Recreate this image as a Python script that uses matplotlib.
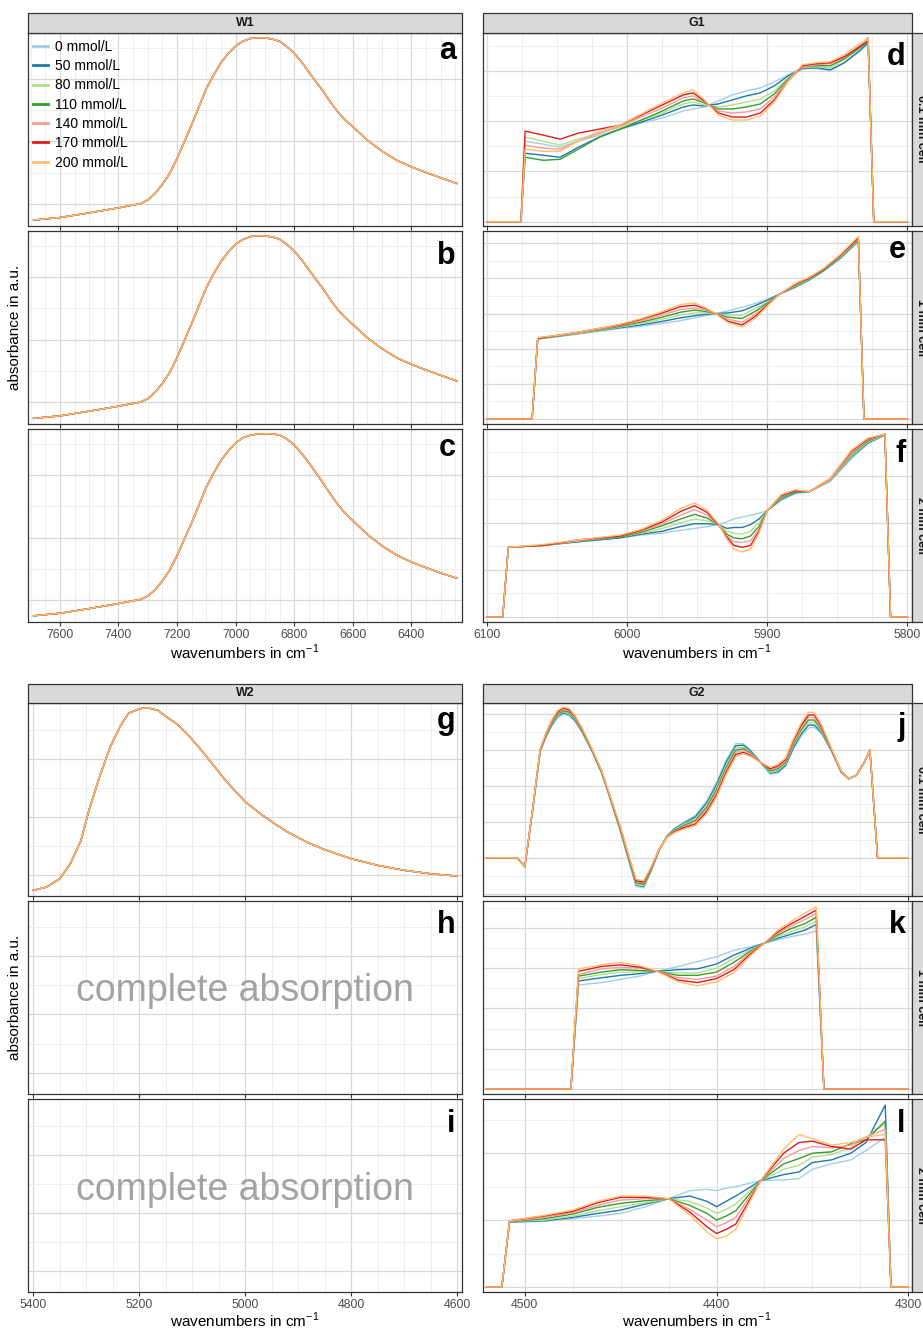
import numpy as np
import matplotlib.pyplot as plt
from matplotlib.ticker import MultipleLocator
from matplotlib.patches import Rectangle
from matplotlib.lines import Line2D

plt.rcParams['font.family'] = ['Liberation Sans', 'DejaVu Sans']
plt.rcParams['mathtext.fontset'] = 'custom'
plt.rcParams['mathtext.rm'] = 'Liberation Sans'

#------------------------------ DATA ------------------------------
concentrations = [0, 50, 80, 110, 140, 170, 200]
conc_colors = ['#A6CEE3', '#1F78B4', '#B2DF8A', '#33A02C', '#FB9A99', '#E31A1C', '#FDBF6F']

# water band W1 (panels a, b, c): curves of all concentrations coincide
wn_w1 = [7690, 7600, 7500, 7400, 7350, 7325, 7300, 7275, 7250, 7225, 7200, 7175, 7150, 7125,
         7100, 7075, 7050, 7025, 7000, 6975, 6950, 6925, 6900, 6875, 6850, 6825, 6800, 6775,
         6750, 6725, 6700, 6675, 6650, 6625, 6600, 6550, 6500, 6450, 6400, 6350, 6300, 6245]
abs_a = [0.149, 0.157, 0.172, 0.188, 0.197, 0.201, 0.213, 0.234, 0.263, 0.298, 0.346, 0.399, 0.454, 0.511,
         0.569, 0.612, 0.652, 0.681, 0.705, 0.720, 0.729, 0.731, 0.731, 0.727, 0.720, 0.703, 0.682, 0.654,
         0.622, 0.590, 0.559, 0.524, 0.493, 0.468, 0.447, 0.404, 0.369, 0.340, 0.319, 0.301, 0.284, 0.266]
abs_b = [0.148, 0.156, 0.171, 0.187, 0.196, 0.200, 0.211, 0.232, 0.260, 0.295, 0.343, 0.397, 0.452, 0.509,
         0.567, 0.611, 0.651, 0.681, 0.706, 0.721, 0.730, 0.733, 0.732, 0.729, 0.722, 0.705, 0.684, 0.656,
         0.624, 0.592, 0.561, 0.526, 0.495, 0.470, 0.449, 0.406, 0.371, 0.342, 0.321, 0.303, 0.286, 0.268]
abs_c = [0.150, 0.158, 0.173, 0.189, 0.198, 0.202, 0.213, 0.233, 0.262, 0.296, 0.343, 0.395, 0.448, 0.505,
         0.562, 0.607, 0.647, 0.678, 0.703, 0.720, 0.728, 0.732, 0.733, 0.732, 0.729, 0.716, 0.697, 0.670,
         0.640, 0.607, 0.573, 0.538, 0.505, 0.477, 0.455, 0.410, 0.374, 0.344, 0.322, 0.304, 0.287, 0.270]

# water band W2 (panel g)
wn_w2 = [5400, 5375, 5350, 5330, 5310, 5295, 5275, 5255, 5235, 5220, 5200, 5185, 5165, 5150, 5130,
         5110, 5085, 5060, 5035, 5000, 4970, 4945, 4920, 4885, 4850, 4800, 4750, 4700, 4650, 4600]
abs_g = [0.346, 0.357, 0.386, 0.438, 0.518, 0.622, 0.737, 0.840, 0.915, 0.957, 0.972, 0.976, 0.967, 0.946, 0.921,
         0.886, 0.834, 0.777, 0.720, 0.651, 0.608, 0.576, 0.547, 0.513, 0.486, 0.455, 0.432, 0.415, 0.403, 0.395]

# glucose band G1, rows = wavenumbers, columns = concentrations
wn_d = [6100, 6076, 6073, 6060, 6048, 6035, 6020, 6005, 5990, 5975, 5960, 5953, 5945, 5935,
        5925, 5915, 5905, 5895, 5885, 5875, 5865, 5855, 5845, 5835, 5828, 5824, 5800]
abs_d = [[0, 0, 0, 0, 0, 0, 0], [0, 0, 0, 0, 0, 0, 0],
         [80, 68, 84, 64, 76, 90, 72], [77, 66, 80, 61, 73, 86, 70], [74, 64, 76, 62, 72, 82, 70],
         [80, 74, 82, 72, 80, 88, 80], [86, 84, 88, 84, 88, 92, 90], [92, 92, 94, 92, 95, 96, 96],
         [98, 99, 101, 101, 104, 106, 107], [103, 106, 108, 110, 113, 116, 118],
         [110, 114, 117, 120, 123, 126, 128], [112, 116, 119, 122, 125, 128, 131],
         [114, 115, 116, 118, 119, 120, 121], [120, 117, 114, 112, 110, 108, 106],
         [126, 121, 116, 112, 108, 104, 101], [130, 125, 119, 114, 109, 104, 101],
         [133, 128, 122, 117, 112, 108, 105], [139, 135, 130, 127, 124, 121, 119],
         [146, 145, 143, 142, 141, 140, 140], [153, 152, 153, 154, 154, 155, 156],
         [152, 153, 154, 155, 156, 157, 158], [150, 151, 153, 155, 157, 158, 159],
         [158, 158, 161, 162, 163, 164, 166], [168, 169, 171, 172, 174, 173, 176],
         [176, 178, 180, 179, 183, 180, 181], [0, 0, 0, 0, 0, 0, 0], [0, 0, 0, 0, 0, 0, 0]]

wn_e = [6100, 6068, 6064, 6050, 6034, 6020, 6005, 5990, 5975, 5962, 5952, 5944, 5937, 5928,
        5918, 5908, 5898, 5891, 5880, 5870, 5860, 5848, 5835, 5831, 5800]
abs_e = [[0, 0, 0, 0, 0, 0, 0], [0, 0, 0, 0, 0, 0, 0],
         [114, 114, 115, 115, 115, 115, 116], [117, 118, 118, 118, 119, 119, 119],
         [121, 122, 122, 123, 123, 124, 124], [125, 126, 126, 127, 128, 129, 129],
         [129, 130, 131, 132, 133, 134, 135], [132, 134, 136, 138, 140, 142, 143],
         [136, 139, 142, 145, 148, 151, 153], [140, 144, 148, 152, 156, 160, 163],
         [144, 147, 151, 155, 158, 162, 165], [147, 149, 151, 153, 155, 157, 158],
         [150, 150, 150, 150, 150, 150, 150], [154, 151, 148, 145, 142, 139, 137],
         [159, 154, 148, 143, 138, 134, 131], [165, 162, 158, 154, 150, 147, 144],
         [172, 171, 169, 168, 167, 166, 165], [178, 178, 178, 178, 178, 178, 178],
         [187, 188, 189, 190, 191, 192, 193], [198, 198, 199, 200, 201, 201, 202],
         [210, 211, 212, 212, 213, 213, 214], [228, 229, 230, 231, 232, 233, 234],
         [252, 254, 255, 256, 257, 258, 260], [0, 0, 0, 0, 0, 0, 0], [0, 0, 0, 0, 0, 0, 0]]

wn_f = [6100, 6089, 6085, 6060, 6034, 6005, 5990, 5975, 5962, 5952, 5943, 5935, 5929, 5924, 5918,
        5912, 5906, 5900, 5890, 5880, 5870, 5855, 5840, 5828, 5816, 5812, 5800]
abs_f = [[0, 0, 0, 0, 0, 0, 0], [0, 0, 0, 0, 0, 0, 0],
         [74, 74, 74, 74, 74, 74, 74], [76, 76, 76, 76, 76, 76, 77],
         [80, 80, 81, 81, 81, 82, 82], [84, 84, 85, 85, 86, 86, 87],
         [87, 88, 89, 90, 91, 92, 93], [89, 91, 94, 97, 99, 101, 103],
         [92, 96, 100, 104, 108, 112, 115], [94, 99, 104, 109, 114, 118, 121],
         [96, 99, 102, 105, 108, 111, 113], [98, 98, 98, 98, 98, 98, 99],
         [101, 94, 91, 88, 86, 85, 83], [104, 95, 89, 84, 80, 76, 72],
         [106, 95, 88, 83, 79, 74, 69], [108, 98, 91, 86, 81, 76, 72],
         [110, 104, 100, 96, 93, 91, 89], [113, 113, 113, 113, 113, 113, 113],
         [124, 125, 126, 127, 128, 129, 130], [131, 132, 133, 133, 134, 134, 135],
         [133, 133, 133, 133, 133, 133, 133], [144, 145, 145, 146, 146, 147, 147],
         [168, 170, 171, 173, 174, 176, 177], [184, 185, 186, 187, 188, 189, 190],
         [193, 193, 193, 194, 194, 194, 194], [0, 0, 0, 0, 0, 0, 0], [0, 0, 0, 0, 0, 0, 0]]

# glucose band G2
wn_j = [4520, 4504, 4500, 4496, 4492, 4489, 4486, 4483, 4480, 4477, 4474, 4470, 4465, 4460, 4455,
        4450, 4446, 4442, 4438, 4434, 4430, 4426, 4422, 4417, 4411, 4405, 4400, 4395, 4390, 4386,
        4382, 4377, 4372, 4368, 4364, 4360, 4356, 4352, 4349, 4345, 4340, 4335, 4331, 4327, 4323,
        4320, 4316, 4300]
abs_j = [[0, 0, 0, 0, 0, 0, 0], [0, 0, 0, 0, 0, 0, 0], [-11, -12, -12, -13, -12, -12, -12],
         [65, 65, 66, 66, 66, 67, 67], [148, 149, 149, 150, 151, 151, 152],
         [168, 169, 170, 171, 172, 173, 174], [184, 185, 187, 188, 189, 191, 192],
         [195, 197, 198, 200, 202, 203, 205], [200, 202, 204, 205, 207, 209, 210],
         [198, 200, 201, 203, 205, 206, 208], [191, 192, 194, 195, 196, 198, 199],
         [174, 175, 176, 177, 178, 179, 180], [148, 149, 149, 150, 151, 151, 152],
         [118, 119, 119, 120, 121, 121, 122], [78, 79, 79, 80, 81, 81, 82],
         [35, 36, 37, 38, 40, 41, 42], [-3, -1, 0, 1, 3, 4, 5],
         [-40, -38, -37, -35, -33, -32, -30], [-42, -40, -39, -37, -35, -34, -32],
         [-18, -17, -16, -15, -14, -13, -12], [10, 10, 11, 11, 11, 12, 12],
         [30, 30, 29, 29, 29, 28, 28], [41, 40, 39, 38, 37, 36, 35],
         [50, 48, 47, 45, 43, 42, 40], [59, 57, 54, 52, 50, 47, 45],
         [80, 77, 74, 71, 68, 65, 62], [105, 102, 98, 95, 92, 88, 85],
         [136, 133, 129, 126, 123, 119, 116], [159, 156, 153, 150, 147, 144, 141],
         [159, 157, 154, 152, 150, 147, 145], [149, 148, 146, 145, 144, 142, 141],
         [133, 133, 133, 133, 133, 133, 133], [116, 118, 119, 121, 123, 124, 126],
         [118, 120, 122, 124, 126, 128, 130], [127, 129, 131, 133, 135, 137, 139],
         [151, 153, 156, 158, 160, 163, 165], [169, 172, 175, 178, 181, 184, 187],
         [181, 185, 188, 192, 196, 199, 203], [182, 185, 189, 192, 195, 199, 202],
         [172, 174, 176, 178, 180, 182, 184], [148, 149, 149, 150, 151, 151, 152],
         [119, 119, 120, 120, 120, 121, 121], [110, 110, 110, 110, 110, 110, 110],
         [115, 115, 115, 115, 115, 115, 115], [133, 133, 133, 133, 133, 133, 133],
         [150, 150, 150, 150, 150, 150, 150], [0, 0, 0, 0, 0, 0, 0], [0, 0, 0, 0, 0, 0, 0]]

wn_k = [4520, 4476, 4472, 4460, 4450, 4440, 4431, 4420, 4410, 4400, 4391, 4383, 4375, 4368,
        4361, 4354, 4348, 4344, 4300]
abs_k = [[0, 0, 0, 0, 0, 0, 0], [0, 0, 0, 0, 0, 0, 0],
         [129, 134, 137, 140, 142, 146, 149], [132, 138, 142, 145, 149, 152, 154],
         [136, 141, 145, 148, 151, 154, 157], [140, 143, 145, 147, 150, 151, 153],
         [146, 146, 146, 146, 146, 146, 146], [152, 148, 144, 141, 138, 135, 133],
         [158, 149, 144, 141, 136, 132, 128], [164, 155, 150, 145, 140, 137, 133],
         [172, 166, 162, 157, 152, 148, 144], [176, 174, 172, 170, 168, 166, 164],
         [181, 181, 181, 181, 181, 181, 181], [185, 187, 189, 191, 193, 195, 197],
         [189, 192, 195, 199, 202, 205, 208], [192, 197, 201, 205, 210, 214, 218],
         [196, 204, 208, 213, 218, 222, 226], [0, 0, 0, 0, 0, 0, 0], [0, 0, 0, 0, 0, 0, 0]]

wn_l = [4520, 4512, 4508, 4490, 4475, 4462, 4450, 4437, 4425, 4414, 4405, 4400, 4395, 4390, 4377,
        4365, 4357, 4350, 4340, 4330, 4322, 4312, 4309, 4300]
abs_l = [[0, 0, 0, 0, 0, 0, 0], [0, 0, 0, 0, 0, 0, 0],
         [48.5, 48.5, 49, 49, 49, 49.5, 49.5], [49, 49.5, 50, 51, 52, 53, 53.5],
         [51, 52, 53, 54.5, 55.5, 56.5, 57.5], [53, 55, 57, 59.5, 61, 63, 64],
         [55, 57.5, 60, 62.5, 65, 67, 68], [60, 62, 63, 64.5, 66, 67, 68],
         [66, 66, 66, 66, 66, 66, 66], [72, 68, 64, 61, 58, 56, 54],
         [73, 64, 59, 55, 50, 45, 41], [72, 60, 55, 50, 45, 40, 36],
         [74, 64, 58, 53, 48, 43, 38], [75, 68, 62, 57, 52, 47, 43],
         [79.5, 79.5, 79.5, 79.5, 79.5, 79.5, 79.5], [80, 84, 88, 92, 96, 100, 103],
         [81, 86, 91, 96, 102, 108, 114], [88, 93, 97, 100, 105, 109, 111],
         [92, 95, 99, 101, 104, 105, 106], [95, 100, 104, 107, 106, 103, 108],
         [102, 108, 112, 110, 112, 110, 112], [112, 136, 122, 124, 118, 110, 114],
         [0, 0, 0, 0, 0, 0, 0], [0, 0, 0, 0, 0, 0, 0]]

#------------------------------ LAYOUT ------------------------------
W, H = 923, 1331
fig = plt.figure(figsize=(W / 100, H / 100), dpi=100)

left_col = (28.3, 461.7)
right_col = (482.7, 911.7)
top_rows = [(32.5, 226), (231, 424), (429, 622)]
bot_rows = [(703, 896), (900.5, 1094), (1099, 1292)]
cell_labels = ['0.1 mm cell', '1 mm cell', '2 mm cell']


def add_panel(col, row):
    return fig.add_axes([col[0] / W, 1 - row[1] / H, (col[1] - col[0]) / W, (row[1] - row[0]) / H])


def style_axes(ax, xlim, ylim, xmaj, xmin, ymaj, ymin, bottom):
    ax.set_xlim(*xlim)
    ax.set_ylim(*ylim)
    ax.xaxis.set_major_locator(MultipleLocator(xmaj))
    ax.xaxis.set_minor_locator(MultipleLocator(xmin))
    ax.yaxis.set_major_locator(MultipleLocator(ymaj))
    ax.yaxis.set_minor_locator(MultipleLocator(ymin))
    ax.grid(which='major', color='#D9D9D9', lw=0.9)
    ax.grid(which='minor', color='#EBEBEB', lw=0.6)
    ax.set_axisbelow(True)
    for s in ax.spines.values():
        s.set_color('#333333')
        s.set_linewidth(0.9)
    ax.tick_params(axis='y', which='both', left=False, labelleft=False)
    ax.tick_params(axis='x', which='minor', length=0)
    ax.tick_params(axis='x', which='major', length=3, color='#333333', labelsize=8.8,
                   labelcolor='#4D4D4D', pad=2, labelbottom=bottom)


def panel_letter(ax, row, col, letter):
    h = row[1] - row[0]
    w = col[1] - col[0]
    off = 3.5 if letter in 'aceg' else 9.5
    ax.text(1 - 6 / w, 1 - off / h, letter, transform=ax.transAxes, ha='right', va='top',
            fontsize=22, fontweight='bold', color='black', zorder=10)


def strip_top(col, y0, y1, label):
    fig.add_artist(Rectangle((col[0] / W, 1 - y1 / H), (col[1] - col[0]) / W, (y1 - y0) / H,
                             transform=fig.transFigure, fc='#D9D9D9', ec='#333333', lw=0.9))
    fig.text((col[0] + col[1]) / 2 / W, 1 - (y0 + y1) / 2 / H, label, ha='center', va='center',
             fontsize=9, fontweight='bold', color='#1A1A1A')


def strip_right(row, label):
    # row strips run past the right edge of the picture, as in the original
    fig.add_artist(Rectangle((right_col[1] / W, 1 - row[1] / H), 20 / W, (row[1] - row[0]) / H,
                             transform=fig.transFigure, fc='#D9D9D9', ec='#333333', lw=0.9, clip_on=False))
    fig.text(921.5 / W, 1 - (row[0] + row[1]) / 2 / H, label, ha='center', va='center', rotation=-90,
             fontsize=9, fontweight='bold', color='#1A1A1A')


def plot_w(ax, wn, vals):
    for c, col in zip(concentrations, conc_colors):
        ax.plot(wn, vals, color=col, lw=1.0, label=f'{c} mmol/L')


def plot_g(ax, wn, table):
    arr = np.array(table, dtype=float).T
    for vals, col in zip(arr, conc_colors):
        ax.plot(wn, vals, color=col, lw=1.0)


# ---------------- top block: W1 / G1 ----------------
w1_vals = [abs_a, abs_b, abs_c]
g1_data = [(wn_d, abs_d, (-4.3, 188)), (wn_e, abs_e, (-7.1, 267.6)), (wn_f, abs_f, (-5.3, 199.5))]
for i, row in enumerate(top_rows):
    ax = add_panel(left_col, row)
    plot_w(ax, wn_w1, w1_vals[i])
    style_axes(ax, (7708, 6228), (0.130, 0.748), 200, 50, 0.2, 0.1, i == 2)
    panel_letter(ax, row, left_col, 'abc'[i])
    if i == 0:
        handles = [Line2D([], [], color=col, lw=2) for col in conc_colors]
        ax.legend(handles, [f'{c} mmol/L' for c in concentrations], loc='upper left',
                  bbox_to_anchor=(0.0, 0.987), frameon=False, fontsize=10, handlelength=1.1,
                  handletextpad=0.5, labelspacing=0.38, borderpad=0.2, borderaxespad=0.15)

    ax = add_panel(right_col, row)
    wn, tab, ylim = g1_data[i]
    plot_g(ax, wn, tab)
    style_axes(ax, (6103.3, 5796.9), ylim, 100, 25, 50, 25, i == 2)
    panel_letter(ax, row, right_col, 'def'[i])
    strip_right(row, cell_labels[i])

strip_top(left_col, 13, 32.5, 'W1')
strip_top(right_col, 13, 32.5, 'G1')

# ---------------- bottom block: W2 / G2 ----------------
g2_data = [(wn_j, abs_j, (-53.3, 215.7)), (wn_k, abs_k, (-6.2, 233.8)), (wn_l, abs_l, (-3.75, 140.5))]
for i, row in enumerate(bot_rows):
    ax = add_panel(left_col, row)
    if i == 0:
        plot_w(ax, wn_w2, abs_g)
    else:
        ax.text(0.5, 0.53, 'complete absorption', transform=ax.transAxes, ha='center', va='center',
                fontsize=27, color='#A3A3A3')
    style_axes(ax, (5409.4, 4591.7), (0.3264, 0.992), 200, 50, 0.2, 0.1, i == 2)
    panel_letter(ax, row, left_col, 'ghi'[i])

    ax = add_panel(right_col, row)
    wn, tab, ylim = g2_data[i]
    plot_g(ax, wn, tab)
    style_axes(ax, (4522, 4298.2), ylim, 100, 25, 50, 25, i == 2)
    panel_letter(ax, row, right_col, 'jkl'[i])
    strip_right(row, cell_labels[i])

strip_top(left_col, 684, 703, 'W2')
strip_top(right_col, 684, 703, 'G2')

# ---------------- axis titles ----------------
xlab = 'wavenumbers in cm$^{-1}$'
for yy in (652, 1320):
    fig.text((left_col[0] + left_col[1]) / 2 / W, 1 - yy / H, xlab, ha='center', va='center', fontsize=11)
    fig.text((right_col[0] + right_col[1]) / 2 / W, 1 - yy / H, xlab, ha='center', va='center', fontsize=11)
for yy in (327, 997):
    fig.text(15 / W, 1 - yy / H, 'absorbance in a.u.', ha='center', va='center', rotation=90, fontsize=11)

fig.savefig('out.png', dpi=100)
